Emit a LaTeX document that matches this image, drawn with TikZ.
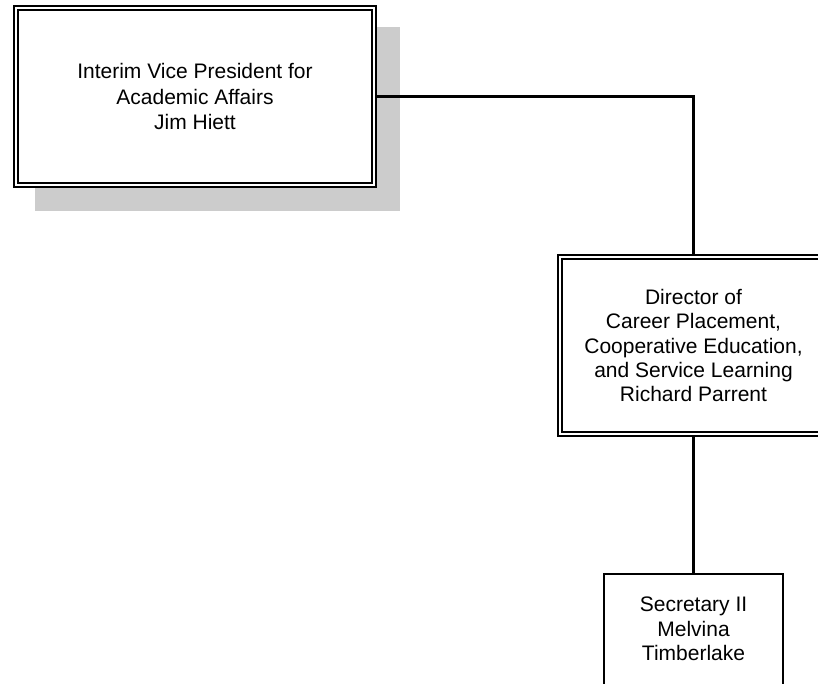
\documentclass[tikz,border=0pt]{standalone}
\usepackage{fontspec}
\setmainfont{Liberation Sans}
\definecolor{shadowgray}{HTML}{CCCCCC}
\begin{document}
\begin{tikzpicture}[x=1pt,y=-1pt,
  dbox/.style={draw=black, line width=2.1pt, double=white, double distance=2.2pt,
    fill=white, align=center, inner sep=0pt, outer sep=3.2pt},
  sbox/.style={draw=black, line width=2.1pt, fill=white, inner sep=0pt},
  txt/.style={align=center, font=\fontsize{21}{24.5}\selectfont, inner sep=0pt},
  conn/.style={draw=black, line width=2.1pt}]
\useasboundingbox (0,0) rectangle (818,684);
\clip (0,0) rectangle (818,684);
\fill[shadowgray] (35,27) rectangle (400,211);
\node[dbox, minimum width=357.6pt, minimum height=176.6pt,
  font=\fontsize{21}{25.7}\selectfont] (vp) at (195,96.5)
  {Interim Vice President for\\Academic Affairs\\Jim Hiett};
\node[dbox, minimum width=266.6pt, minimum height=176.6pt,
  font=\fontsize{21}{24.4}\selectfont] (dir) at (693.5,345.5)
  {Director of\\Career Placement,\\Cooperative Education,\\and Service Learning\\Richard Parrent};
\node[sbox, minimum width=179pt, minimum height=130pt, anchor=north] (sec) at (693.5,573) {};
\node[txt] (sectxt) at (693.5,629) {Secretary II\\Melvina\\Timberlake};
\draw[conn] (vp.east) -| (dir.north);
\draw[conn] (dir.south) -- (sec.north);
\end{tikzpicture}
\end{document}
